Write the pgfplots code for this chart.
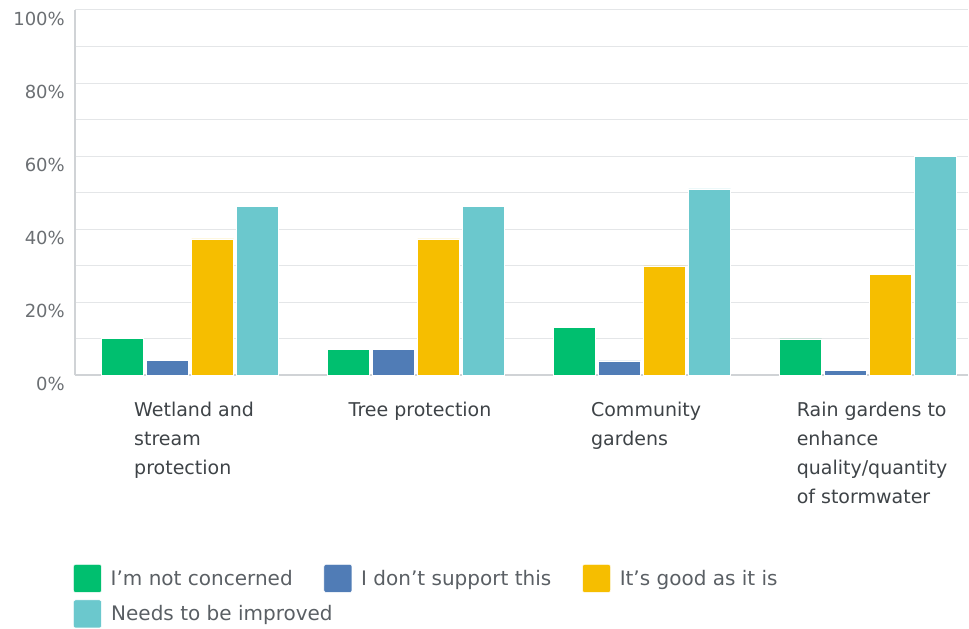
\documentclass[border=0pt]{standalone}
\usepackage{pgfplots}
\pgfplotsset{compat=1.18}
\usepackage{fontspec}
\setmainfont{DejaVu Sans}
\definecolor{cgreen}{HTML}{00BF6F}
\definecolor{cblue}{HTML}{507CB6}
\definecolor{cyellow}{HTML}{F6BE00}
\definecolor{cteal}{HTML}{6BC8CD}
\definecolor{gridc}{HTML}{E4E6E8}
\definecolor{axisc}{HTML}{D0D3D6}
\definecolor{tickc}{HTML}{6B6F73}
\definecolor{labc}{HTML}{3E4347}
\definecolor{legc}{HTML}{5A5F64}
\begin{document}
\begin{tikzpicture}
\useasboundingbox (-75pt,-254pt) rectangle (894pt,375pt);
\begin{axis}[
  at={(0pt,0pt)}, anchor=south west, scale only axis,
  width=893pt, height=365pt,
  ybar=3pt, bar width=42pt,
  ymin=0, ymax=100,
  xmin=-0.509, xmax=3.442,
  axis x line*=bottom, axis y line*=left,
  axis line style={axisc, line width=1.2pt, -},
  xtick={0,1,2,3},
  xticklabels={
    {\begin{tabular}[t]{@{}l@{}}Wetland and\\stream\\protection\end{tabular}},
    {\begin{tabular}[t]{@{}l@{}}Tree protection\end{tabular}},
    {\begin{tabular}[t]{@{}l@{}}Community\\gardens\end{tabular}},
    {\begin{tabular}[t]{@{}l@{}}Rain gardens to\\enhance\\quality/quantity\\of stormwater\end{tabular}}},
  xticklabel style={font=\fontsize{19}{29}\selectfont, text=labc, anchor=north, inner sep=0pt, yshift=-21pt, xshift=4pt},
  ytick={0,20,40,60,80,100},
  yticklabels={0\%,20\%,40\%,60\%,80\%,100\%},
  minor ytick={10,30,50,70,90},
  yticklabel style={font=\fontsize{18}{22}\selectfont, text=tickc, anchor=east, inner sep=0pt, xshift=-10pt, yshift=-9pt},
  major tick length=0pt, minor tick length=0pt,
  ymajorgrids, yminorgrids,
  major grid style={gridc, line width=1pt},
  minor grid style={gridc, line width=1pt},
  legend style={at={(axis description cs:-0.0022,-0.5178)}, anchor=north west, draw=none, fill=none, inner sep=0pt,
    font=\fontsize{20}{24}\selectfont, text=legc, legend columns=3,
    nodes={inner sep=0pt},
    /tikz/every odd column/.append style={column sep=9pt},
    /tikz/every even column/.append style={column sep=31pt},
    row sep=7pt},
  legend cell align=left,
  legend image code/.code={\fill[#1, rounded corners=2pt] (0pt,-14pt) rectangle (28pt,14pt);},
]
\addplot[fill=cgreen, draw=white, line width=0.5pt] coordinates {(0,10.0) (1,7.0) (2,13.0) (3,9.9)};
\addlegendentry{I'm not concerned}
\addplot[fill=cblue, draw=white, line width=0.5pt] coordinates {(0,4.0) (1,7.0) (2,3.9) (3,1.2)};
\addlegendentry{I don't support this}
\addplot[fill=cyellow, draw=white, line width=0.5pt] coordinates {(0,37.3) (1,37.3) (2,29.9) (3,27.5)};
\addlegendentry{It's good as it is}
\addplot[fill=cteal, draw=white, line width=0.5pt] coordinates {(0,46.3) (1,46.3) (2,51.0) (3,59.8)};
\addlegendentry{\makebox[0pt][l]{Needs to be improved}}
\end{axis}
\end{tikzpicture}
\end{document}
